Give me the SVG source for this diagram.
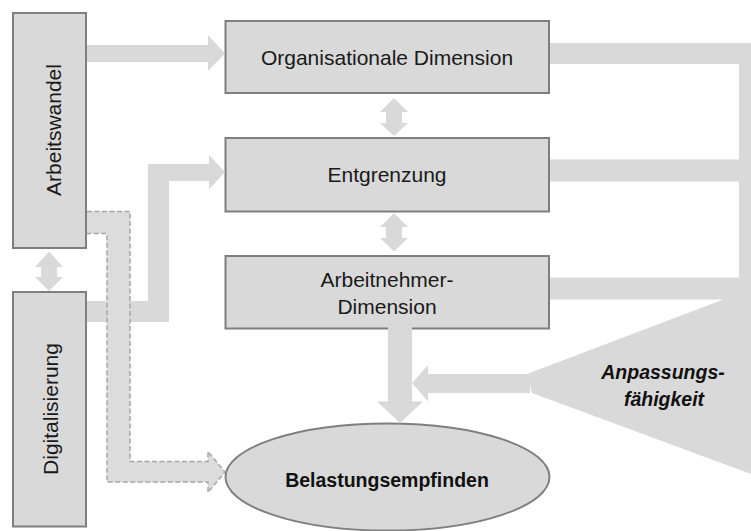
<svg xmlns="http://www.w3.org/2000/svg" width="751" height="531" viewBox="0 0 751 531">
<style>
.box{fill:#d9d9d9;stroke:#7f7f7f;stroke-width:2}
.flow{fill:#d9d9d9;stroke:none}
.dash-fill{fill:#dcdcdc;stroke:none}
.dash-line{fill:none;stroke:#a6a6a6;stroke-width:1.5;stroke-dasharray:5 2.5}
.t{font-family:"Liberation Sans",Arial,sans-serif;font-size:21px;fill:#1a1a1a;text-anchor:middle}
.tb{font-family:"Liberation Sans",Arial,sans-serif;font-size:19.5px;font-weight:bold;fill:#111;text-anchor:middle}
.ti{font-family:"Liberation Sans",Arial,sans-serif;font-size:19.5px;font-weight:bold;font-style:italic;fill:#111;text-anchor:middle}
</style>
<rect width="751" height="531" fill="#ffffff"/>
<g id="anpassung">
<polygon class="flow" points="527,374 751,289 751,474 532,393"/>
<text class="ti" x="663" y="379">Anpassungs-</text>
<text class="ti" x="664" y="406">fähigkeit</text>
</g>
<g id="arbeitswandel">
<rect class="box" x="13" y="13" width="73" height="235"/>
<text class="t" transform="translate(61,130) rotate(-90)" x="0" y="0">Arbeitswandel</text>
</g>
<g id="digitalisierung">
<rect class="box" x="13" y="292" width="73" height="234.5"/>
<text class="t" transform="translate(58,409) rotate(-90)" x="0" y="0">Digitalisierung</text>
</g>
<g id="organisationale">
<rect class="box" x="225.5" y="21" width="323.5" height="72"/>
<text class="t" x="387" y="65">Organisationale Dimension</text>
</g>
<g id="entgrenzung">
<rect class="box" x="225.5" y="138" width="323.5" height="73.5"/>
<text class="t" x="387" y="181.5">Entgrenzung</text>
</g>
<g id="arbeitnehmer">
<rect class="box" x="225.5" y="256" width="323.5" height="72.5"/>
<text class="t" x="387" y="286.5">Arbeitnehmer-</text>
<text class="t" x="387" y="314">Dimension</text>
</g>
<g id="belastung">
<ellipse class="box" cx="387.5" cy="477" rx="162" ry="53.5"/>
<text class="tb" x="387" y="487">Belastungsempfinden</text>
</g>
<g id="connectors">
<rect class="flow" x="550" y="43" width="210" height="21"/>
<rect class="flow" x="739" y="43" width="21" height="260"/>
<rect class="flow" x="550" y="159.5" width="210" height="22"/>
<rect class="flow" x="550" y="277.5" width="210" height="22"/>
<polygon class="flow" points="412,383 428,365 428,374 530,374 530,393 428,393 428,401.5"/>
<polygon class="flow" points="87,45 208,45 208,35 225,53.5 208,71 208,62 87,62"/>
<polygon class="flow" points="87,301 148,301 148,164 209,164 209,155 225,172 209,189.5 209,181 169,181 169,322 87,322"/>
<polygon class="flow" points="394,98 408,112 402,112 402,123 408,123 394,136 380,123 386,123 386,112 380,112"/>
<polygon class="flow" points="394,213 408,227 402,227 402,238 408,238 394,251.5 380,238 386,238 386,227 380,227"/>
<polygon class="flow" points="49,251.5 63,267 57,267 57,277 63,277 49,291 35,277 41,277 41,267 35,267"/>
<polygon class="flow" points="388,327 412,327 412,401.5 423,401.5 400,423 377,401.5 388,401.5"/>
<polygon class="dash-fill" points="87,211.5 130,211.5 130,461.5 208,461.5 208,451.5 225,472 208,492.5 208,482 107,482 107,233.5 87,233.5"/>
<polyline class="dash-line" points="87,211.5 130,211.5 130,461.5 208,461.5 208,451.5 225,472 208,492.5 208,482 107,482 107,233.5 87,233.5"/>
</g>
</svg>
